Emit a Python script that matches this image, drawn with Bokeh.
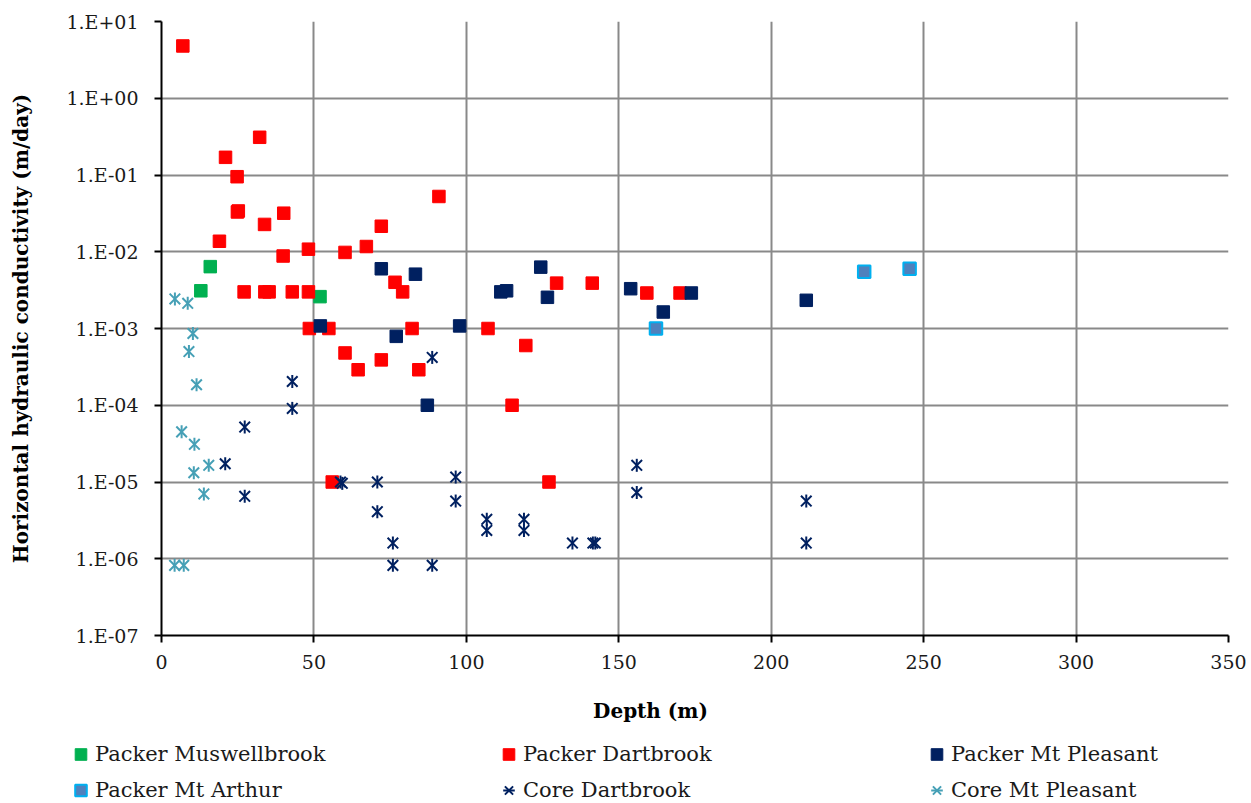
import math
from bokeh.plotting import figure
from bokeh.models import (Range1d, FixedTicker, CustomJSTickFormatter, Legend, LegendItem, Label)
from bokeh.embed import file_html
from bokeh.resources import INLINE

# ---------------- data ----------------
mus_depth = [12.9, 16.0, 52.0]
mus_k = [0.0031, 0.0064, 0.0026]

dart_depth = [7.0, 19.0, 21.0, 24.8, 24.9, 25.2, 27.1, 32.2, 33.8, 33.9, 35.3, 39.9, 40.1,
              42.9, 48.2, 48.2, 48.5, 54.9, 56.0, 60.2, 60.2, 64.5, 67.2, 72.1, 72.1, 76.6,
              79.1, 82.2, 84.4, 91.0, 107.1, 115.0, 119.5, 127.1, 129.6, 141.3, 159.2, 170.1]
dart_k = [4.8, 0.0137, 0.17, 0.095, 0.033, 0.034, 0.003, 0.31, 0.0227, 0.003, 0.003, 0.0088, 0.0318,
          0.003, 0.0108, 0.003, 0.001, 0.001, 1e-5, 0.0098, 4.8e-4, 2.9e-4, 0.0117, 0.0215, 3.9e-4, 0.0040,
          0.0030, 0.001, 2.9e-4, 0.0525, 0.001, 1e-4, 6e-4, 1e-5, 0.0039, 0.0039, 0.0029, 0.0029]

mtp_depth = [52.1, 72.1, 77.0, 83.3, 87.2, 97.8, 111.3, 113.2, 124.4, 126.6, 153.9, 164.6, 173.8, 211.5]
mtp_k = [0.00108, 0.0060, 0.00079, 0.0051, 0.0001, 0.00108, 0.0030, 0.0031, 0.0063, 0.00255,
         0.0033, 0.00164, 0.0029, 0.00233]

mta_depth = [162.2, 230.5, 245.4]
mta_k = [0.001, 0.0055, 0.006]

cdart_depth = [20.9, 27.3, 27.3, 42.9, 42.9, 58.7, 59.3, 70.8, 70.8, 75.9, 75.9, 88.8, 88.8,
               96.5, 96.5, 106.7, 106.7, 118.9, 118.9, 134.8, 141.5, 142.3, 155.9, 155.9, 211.5, 211.5]
cdart_k = [1.73e-5, 5.2e-5, 6.5e-6, 2.04e-4, 9.1e-5, 1.0e-5, 9.6e-6, 1.0e-5, 4.1e-6, 1.6e-6, 8.2e-7,
           4.2e-4, 8.2e-7, 1.16e-5, 5.65e-6, 3.26e-6, 2.34e-6, 3.26e-6, 2.34e-6, 1.6e-6, 1.6e-6, 1.6e-6,
           1.65e-5, 7.3e-6, 5.65e-6, 1.6e-6]

cmtp_depth = [4.4, 8.6, 10.3, 9.0, 11.5, 6.6, 10.8, 15.5, 10.6, 13.9, 4.3, 7.3]
cmtp_k = [0.00243, 0.00213, 8.6e-4, 5.0e-4, 1.85e-4, 4.5e-5, 3.1e-5, 1.65e-5, 1.32e-5, 7.0e-6, 8.2e-7, 8.2e-7]

x_ticks = [0, 50, 100, 150, 200, 250, 300, 350]
y_ticks = [1e-7, 1e-6, 1e-5, 1e-4, 1e-3, 1e-2, 1e-1, 1e0, 1e1]
y_tick_labels = ["1.E-07", "1.E-06", "1.E-05", "1.E-04", "1.E-03", "1.E-02", "1.E-01", "1.E+00", "1.E+01"]

x_title = "Depth (m)"
y_title = "Horizontal hydraulic conductivity (m/day)"
series_names = ["Packer Muswellbrook", "Packer Dartbrook", "Packer Mt Pleasant",
                "Packer Mt Arthur", "Core Dartbrook", "Core Mt Pleasant"]

# colours / styles
C_MUS, C_DART, C_MTP = "#00B050", "#FF0000", "#002060"
C_MTA_FILL, C_MTA_LINE = "#4F81BD", "#00B0F0"
C_CORE_MTP = "#46A0B6"

FONT = "DejaVu Serif"
SZ = 12.5
STAR_X = 15
STAR_V = 13

# ---------------- main figure ----------------
p = figure(width=1251, height=690, y_axis_type="log",
           x_range=Range1d(0, 350), y_range=Range1d(1e-7, 10),
           output_backend="svg", toolbar_location=None,
           min_border_left=161, min_border_right=23, min_border_top=21, min_border_bottom=55)
p.outline_line_color = None
p.background_fill_color = "white"
p.border_fill_color = "white"

for g in (p.xgrid, p.ygrid):
    g.grid_line_color = "#898989"
    g.grid_line_width = 2
p.xgrid.ticker = FixedTicker(ticks=x_ticks)
p.ygrid.ticker = FixedTicker(ticks=y_ticks)

p.xaxis.ticker = FixedTicker(ticks=x_ticks)
p.yaxis.ticker = FixedTicker(ticks=y_ticks)
p.yaxis.formatter = CustomJSTickFormatter(args=dict(vals=y_ticks, labs=y_tick_labels), code="""
let best = 0, bd = 1e9;
for (let i = 0; i < vals.length; i++) {
  const d = Math.abs(Math.log10(vals[i]) - Math.log10(tick));
  if (d < bd) { bd = d; best = i; }
}
return labs[best];
""")
for ax in (p.xaxis, p.yaxis):
    ax.axis_line_color = "black"
    ax.axis_line_width = 2
    ax.major_tick_line_color = "black"
    ax.major_tick_line_width = 2
    ax.major_tick_in = 0
    ax.major_tick_out = 7
    ax.minor_tick_line_color = None
    ax.major_label_text_font = FONT
    ax.major_label_text_font_size = "19px"
    ax.major_label_text_color = "#1a1a1a"
    ax.axis_label_text_font = FONT
    ax.axis_label_text_font_style = "bold"
    ax.axis_label_text_font_size = "20px"
    ax.axis_label_text_color = "black"

p.yaxis.axis_label = y_title
p.xaxis.major_label_standoff = 12
p.yaxis.major_label_standoff = 16
p.yaxis.axis_label_standoff = 30

p.scatter(mus_depth, mus_k, marker="square", size=SZ, fill_color=C_MUS, line_color=C_MUS)
p.scatter(dart_depth, dart_k, marker="square", size=SZ, fill_color=C_DART, line_color=C_DART)
p.scatter(mtp_depth, mtp_k, marker="square", size=SZ, fill_color=C_MTP, line_color=C_MTP)
p.scatter(mta_depth, mta_k, marker="square", size=SZ, fill_color=C_MTA_FILL,
          line_color=C_MTA_LINE, line_width=2)
p.scatter(cdart_depth, cdart_k, marker="x", size=STAR_X, line_color=C_MTP, line_width=2)
p.scatter(cdart_depth, cdart_k, marker="dash", angle=math.pi / 2, size=STAR_V, line_color=C_MTP, line_width=2)
p.scatter(cmtp_depth, cmtp_k, marker="x", size=STAR_X, line_color=C_CORE_MTP, line_width=2)
p.scatter(cmtp_depth, cmtp_k, marker="dash", angle=math.pi / 2, size=STAR_V, line_color=C_CORE_MTP,
          line_width=2)

# ---------------- strip below: x title + legend ----------------
q = figure(width=1251, height=113, x_range=Range1d(0, 1), y_range=Range1d(0, 1),
           output_backend="svg", toolbar_location=None,
           x_axis_location=None, y_axis_location=None,
           min_border=0, min_border_left=0, min_border_right=0, min_border_top=0, min_border_bottom=0)
q.outline_line_color = None
q.xgrid.visible = False
q.ygrid.visible = False
q.background_fill_color = "white"
q.border_fill_color = "white"

q.add_layout(Label(x=650, y=93, x_units="screen", y_units="screen", text=x_title,
                   text_font=FONT, text_font_style="bold", text_font_size="20px",
                   text_align="center", text_baseline="middle", text_color="black"))

# legend proxies (single point outside the visible range of this strip)
px_, py_ = [-10.0], [-10.0]
l_mus = q.scatter(px_, py_, marker="square", fill_color=C_MUS, line_color=C_MUS)
l_dart = q.scatter(px_, py_, marker="square", fill_color=C_DART, line_color=C_DART)
l_mtp = q.scatter(px_, py_, marker="square", fill_color=C_MTP, line_color=C_MTP)
l_mta = q.scatter(px_, py_, marker="square", fill_color=C_MTA_FILL, line_color=C_MTA_LINE, line_width=2)
l_cd1 = q.scatter(px_, py_, marker="x", line_color=C_MTP, line_width=2)
l_cd2 = q.scatter(px_, py_, marker="dash", angle=math.pi / 2, line_color=C_MTP, line_width=2)
l_cm1 = q.scatter(px_, py_, marker="x", line_color=C_CORE_MTP, line_width=2)
l_cm2 = q.scatter(px_, py_, marker="dash", angle=math.pi / 2, line_color=C_CORE_MTP, line_width=2)

items = [
    LegendItem(label=series_names[0], renderers=[l_mus]),
    LegendItem(label=series_names[1], renderers=[l_dart]),
    LegendItem(label=series_names[2], renderers=[l_mtp]),
    LegendItem(label=series_names[3], renderers=[l_mta]),
    LegendItem(label=series_names[4], renderers=[l_cd1, l_cd2]),
    LegendItem(label=series_names[5], renderers=[l_cm1, l_cm2]),
]
legend = Legend(items=items, orientation="horizontal", ncols=3,
                location=(66, -2),
                glyph_width=29, glyph_height=30, label_height=30,
                label_standoff=0, label_width=393, spacing=6,
                padding=0, margin=0,
                border_line_color=None, background_fill_alpha=0,
                label_text_font=FONT, label_text_font_size="21px",
                label_text_color="#1a1a1a", label_text_baseline="middle")
q.add_layout(legend, "center")

open("out.html", "w").write(file_html([p, q], INLINE))
